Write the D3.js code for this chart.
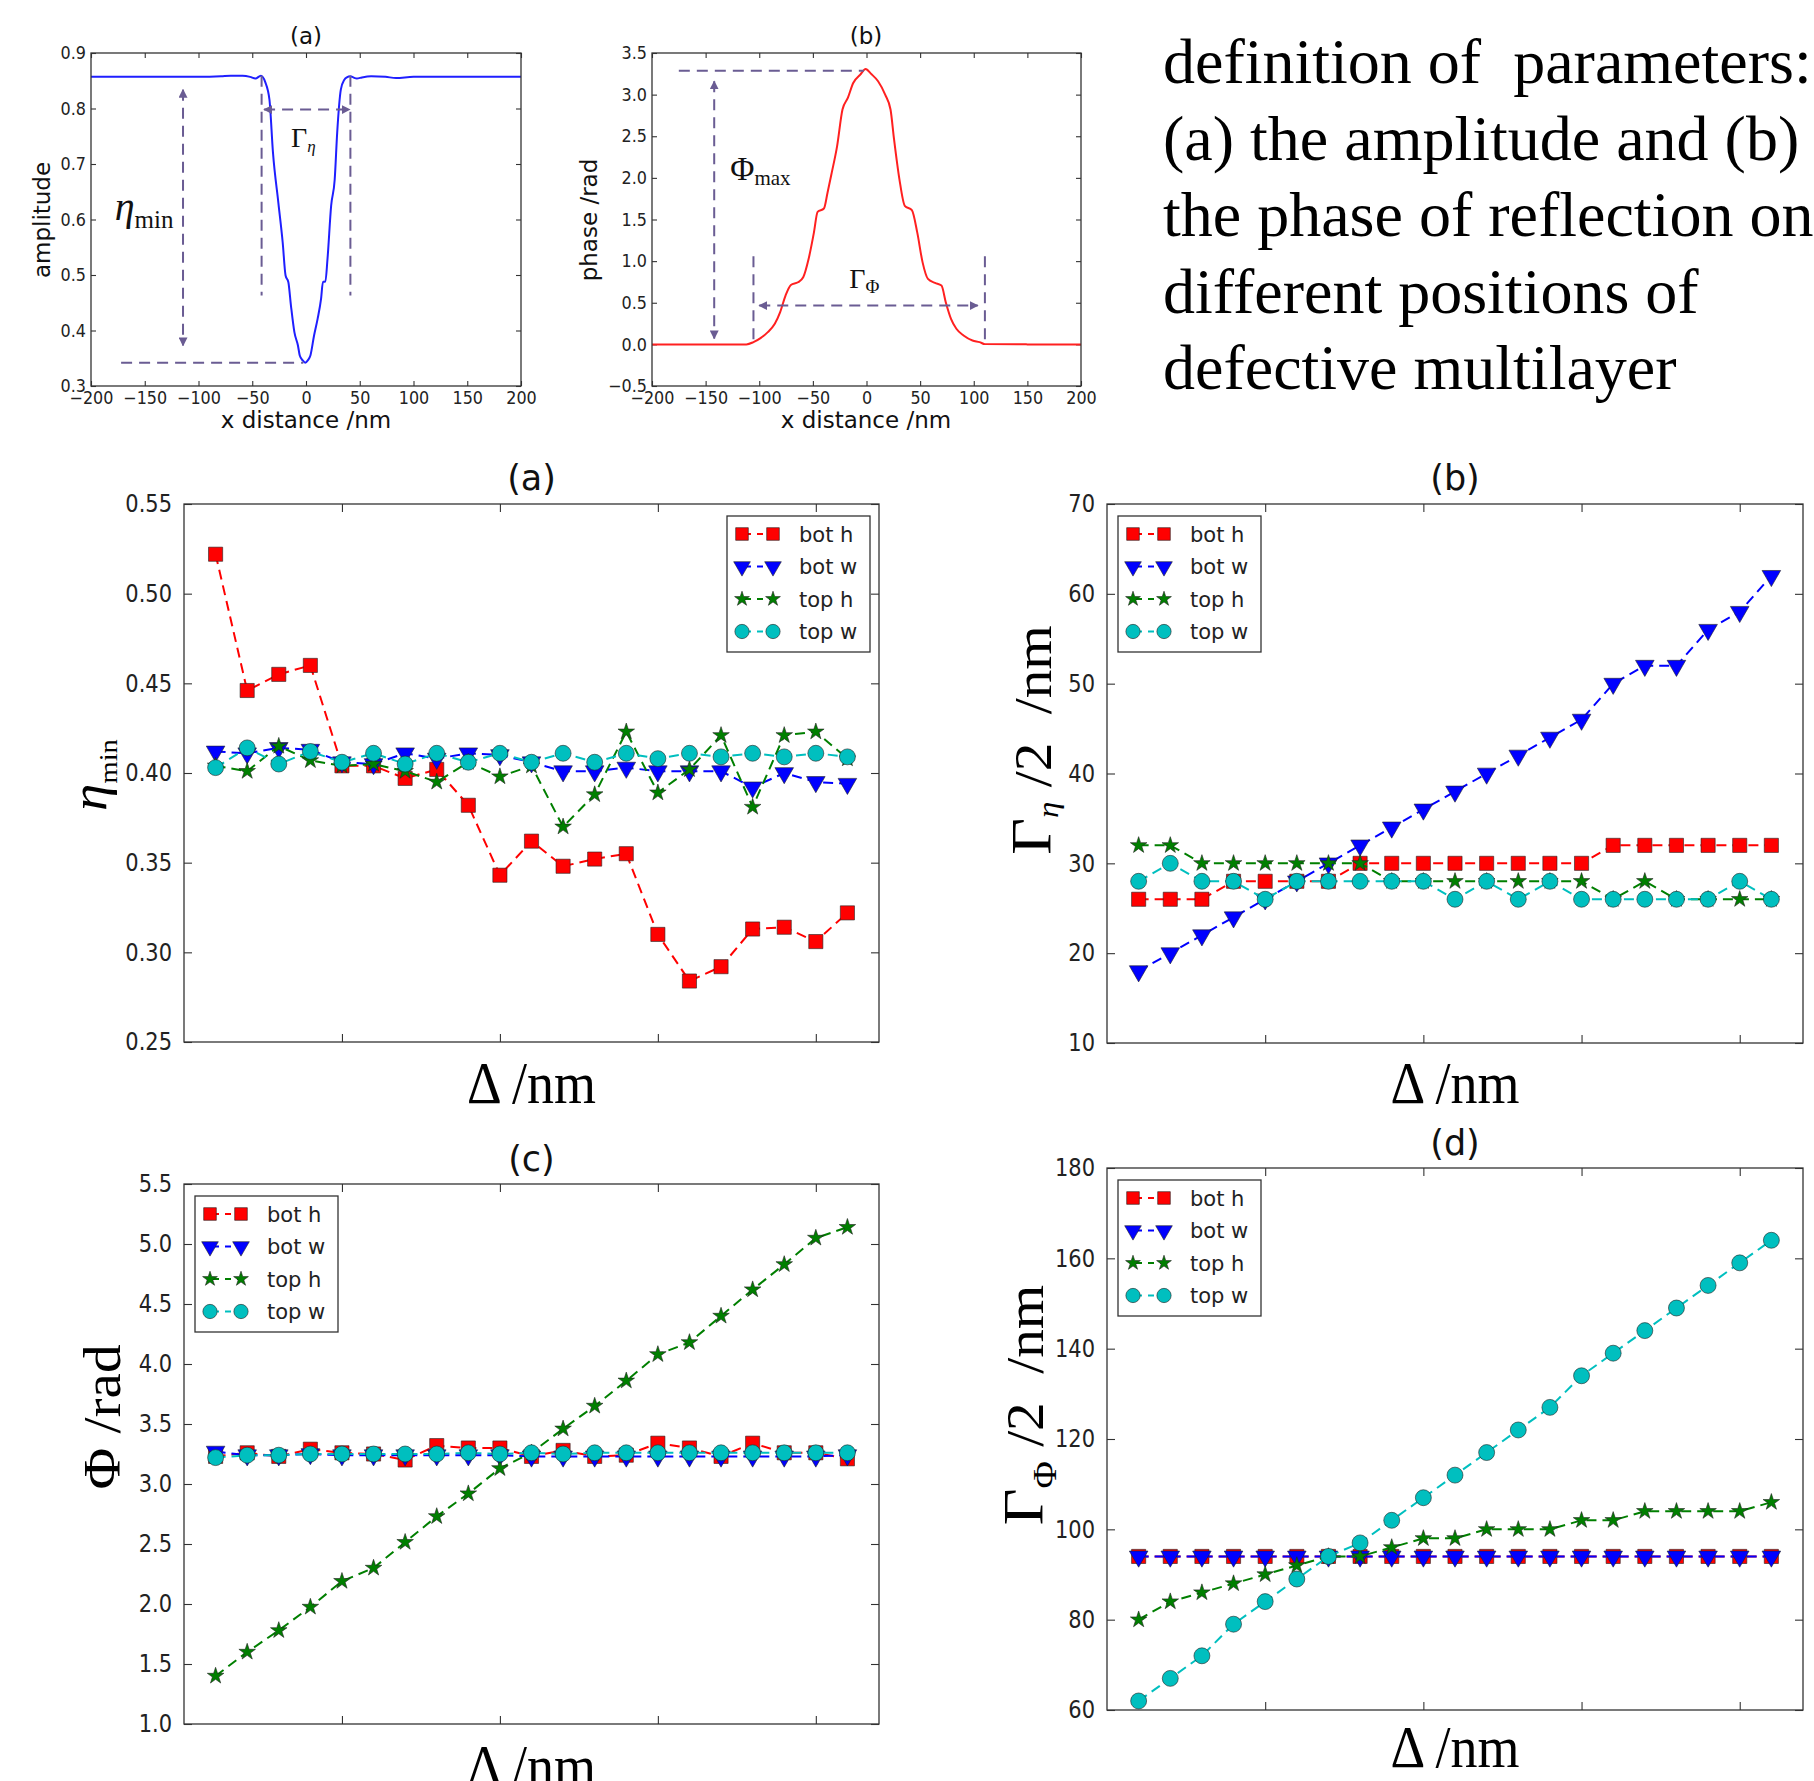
<!DOCTYPE html>
<html>
<head>
<meta charset="utf-8">
<script src="https://cdn.jsdelivr.net/npm/d3@7"></script>
<style>
  body { margin: 0; background: #fff; }
  svg { display: block; }
</style>
</head>
<body>
<script>
// ---------- top row: reflection profiles across the defect ----------
const ampX = [-200, -150, -100, -79, -70, -59, -52, -47, -42, -38, -34, -30.7, -25.7, -21.7, -19, -16.4, -14, -10.8, -7.5, -5.8, -3, -0.8, 2, 4.1, 7.5, 10.8, 14, 15.8, 18, 20, 23.4, 26.7, 29, 32.4, 35.7, 38, 41.3, 44, 47.3, 52, 60.6, 73.9, 83.8, 100, 150, 200];
const ampY = [0.857, 0.857, 0.857, 0.858, 0.859, 0.859, 0.857, 0.854, 0.859, 0.848, 0.816, 0.72, 0.63, 0.559, 0.499, 0.487, 0.445, 0.397, 0.373, 0.355, 0.346, 0.342, 0.347, 0.355, 0.391, 0.421, 0.457, 0.488, 0.488, 0.529, 0.625, 0.672, 0.756, 0.834, 0.852, 0.856, 0.858, 0.856, 0.854, 0.856, 0.858, 0.857, 0.855, 0.857, 0.857, 0.857];

const phX = [-200, -150, -112, -105.4, -98.8, -92, -85.5, -80.5, -75.5, -70.5, -63.9, -59, -54, -49, -45.6, -39.7, -36.3, -32.4, -27.4, -22.4, -17.4, -12.4, -5.8, -0.8, 4.1, 10.8, 17.4, 22.4, 25.7, 30.7, 35.7, 42.3, 47.3, 52.3, 57.3, 63.9, 69.9, 73.9, 78.8, 83.8, 90.5, 98.8, 105.4, 110.4, 150, 200];
const phY = [0, 0, 0, 0.027, 0.075, 0.147, 0.247, 0.387, 0.586, 0.714, 0.746, 0.806, 1.025, 1.345, 1.592, 1.632, 1.824, 2.063, 2.382, 2.821, 2.961, 3.14, 3.24, 3.308, 3.252, 3.16, 3.0, 2.821, 2.462, 1.983, 1.664, 1.612, 1.345, 0.985, 0.786, 0.738, 0.706, 0.507, 0.307, 0.187, 0.107, 0.047, 0.027, 0.003, 0, 0];

const profTicksX = [-200, -150, -100, -50, 0, 50, 100, 150, 200];
const ampTicksY = [0.3, 0.4, 0.5, 0.6, 0.7, 0.8, 0.9];
const phTicksY = [-0.5, 0, 0.5, 1.0, 1.5, 2.0, 2.5, 3.0, 3.5];

// guide lines, in data units
const ampMinLevel = 0.342, ampMinSpan = [-172, -2.5];
const ampMinArrowX = -114.4, ampMinArrowY = [0.834, 0.373];
const ampEdgeX = [-41.3, 41.3], ampEdgeY = [0.859, 0.463];
const ampWidthArrowY = 0.798, ampWidthArrowX = [-39, 40.7];

const phMaxLevel = 3.288, phMaxSpan = [-175, -2.5];
const phMaxArrowX = -142, phMaxArrowY = [3.16, 0.07];
const phEdgeX = [-105.4, 110.4], phEdgeY = [1.06, 0.03];
const phWidthArrowY = 0.466, phWidthArrowX = [-100, 103.7];

// ---------- bottom 2x2: parameters vs defect position ----------
const steps = [0, 1, 2, 3, 4, 5, 6, 7, 8, 9, 10, 11, 12, 13, 14, 15, 16, 17, 18, 19, 20];
const stepTicks = [4, 9, 14, 19];
const seriesNames = ["bot h", "bot w", "top h", "top w"];

const etaBotH = [0.522, 0.446, 0.455, 0.460, 0.404, 0.404, 0.397, 0.402, 0.382, 0.343, 0.362, 0.348, 0.352, 0.355, 0.310, 0.284, 0.292, 0.313, 0.314, 0.306, 0.322];
const etaBotW = [0.412, 0.411, 0.414, 0.413, 0.406, 0.405, 0.411, 0.408, 0.411, 0.410, 0.406, 0.401, 0.401, 0.403, 0.401, 0.401, 0.401, 0.392, 0.400, 0.395, 0.394];
const etaTopH = [0.404, 0.401, 0.415, 0.407, 0.404, 0.405, 0.401, 0.395, 0.406, 0.398, 0.404, 0.370, 0.388, 0.423, 0.389, 0.402, 0.421, 0.381, 0.421, 0.423, 0.408];
const etaTopW = [0.403, 0.414, 0.405, 0.412, 0.406, 0.411, 0.405, 0.411, 0.406, 0.411, 0.406, 0.411, 0.406, 0.411, 0.408, 0.411, 0.409, 0.411, 0.409, 0.411, 0.409];

const gEtaBotH = [26, 26, 26, 28, 28, 28, 28, 30, 30, 30, 30, 30, 30, 30, 30, 32, 32, 32, 32, 32, 32];
const gEtaBotW = [18, 20, 22, 24, 26, 28, 30, 32, 34, 36, 38, 40, 42, 44, 46, 50, 52, 52, 56, 58, 62];
const gEtaTopH = [32, 32, 30, 30, 30, 30, 30, 30, 28, 28, 28, 28, 28, 28, 28, 26, 28, 26, 26, 26, 26];
const gEtaTopW = [28, 30, 28, 28, 26, 28, 28, 28, 28, 28, 26, 28, 26, 28, 26, 26, 26, 26, 26, 28, 26];

const phiBotH = [3.23, 3.26, 3.23, 3.29, 3.26, 3.25, 3.20, 3.32, 3.30, 3.30, 3.23, 3.28, 3.23, 3.24, 3.34, 3.30, 3.23, 3.34, 3.26, 3.26, 3.21];
const phiBotW = [3.27, 3.24, 3.24, 3.25, 3.24, 3.24, 3.24, 3.24, 3.24, 3.24, 3.23, 3.23, 3.23, 3.23, 3.23, 3.23, 3.23, 3.23, 3.23, 3.23, 3.24];
const phiTopH = [1.40, 1.60, 1.78, 1.975, 2.19, 2.30, 2.515, 2.73, 2.92, 3.13, 3.26, 3.46, 3.65, 3.86, 4.08, 4.18, 4.40, 4.62, 4.83, 5.05, 5.14];
const phiTopW = [3.22, 3.24, 3.24, 3.25, 3.25, 3.25, 3.25, 3.25, 3.26, 3.25, 3.26, 3.25, 3.26, 3.26, 3.26, 3.26, 3.26, 3.26, 3.26, 3.26, 3.26];

const gPhiBotH = [94, 94, 94, 94, 94, 94, 94, 94, 94, 94, 94, 94, 94, 94, 94, 94, 94, 94, 94, 94, 94];
const gPhiBotW = [94, 94, 94, 94, 94, 94, 94, 94, 94, 94, 94, 94, 94, 94, 94, 94, 94, 94, 94, 94, 94];
const gPhiTopH = [80, 84, 86, 88, 90, 92, 94, 94, 96, 98, 98, 100, 100, 100, 102, 102, 104, 104, 104, 104, 106];
const gPhiTopW = [62, 67, 72, 79, 84, 89, 94, 97, 102, 107, 112, 117, 122, 127, 134, 139, 144, 149, 154, 159, 164];

const etaTicks = [0.25, 0.30, 0.35, 0.40, 0.45, 0.50, 0.55];
const gEtaTicks = [10, 20, 30, 40, 50, 60, 70];
const phiTicks = [1.0, 1.5, 2.0, 2.5, 3.0, 3.5, 4.0, 4.5, 5.0, 5.5];
const gPhiTicks = [60, 80, 100, 120, 140, 160, 180];

const noteLines = ["definition of  parameters:", "(a) the amplitude and (b)", "the phase of reflection on", "different positions of", "defective multilayer"];

// ---------- drawing ----------
const SANS = "DejaVu Sans";
const SERIF = "Liberation Serif";
const GUIDE = "#6a5c93";

const svg = d3.select("body").append("svg").attr("width", 1814).attr("height", 1781);

const defs = svg.append("defs");
defs.append("marker").attr("id", "arrow")
    .attr("viewBox", "0 0 10 10").attr("refX", 9).attr("refY", 5)
    .attr("markerWidth", 9).attr("markerHeight", 9).attr("markerUnits", "userSpaceOnUse")
    .attr("orient", "auto-start-reverse")
  .append("path").attr("d", "M0,0L10,5L0,10z").attr("fill", GUIDE);

const styles = [
  {color: "#ff0000", type: d3.symbolSquare, size: 200, rot: 0},
  {color: "#0000ff", type: d3.symbolTriangle, size: 150, rot: 180},
  {color: "#007f00", type: d3.symbolStar, size: 85, rot: 0},
  {color: "#00bfbf", type: d3.symbolCircle, size: 200, rot: 0}
];

function panel(box, xDomain, yDomain) {
  const g = svg.append("g").attr("transform", `translate(${box.left},${box.top})`);
  const x = d3.scaleLinear().domain(xDomain).range([0, box.width]);
  const y = d3.scaleLinear().domain(yDomain).range([box.height, 0]);
  return {g, x, y, w: box.width, h: box.height};
}

function axes(p, o) {
  const fix = sel => {
    sel.select(".domain").remove();
    sel.attr("font-family", SANS).attr("font-size", o.font);
    sel.selectAll("line").attr("stroke", "#333").attr("stroke-width", 1.1);
    sel.selectAll("text").attr("fill", "#222").attr("transform", `scale(1,${o.sy})`);
  };
  p.g.append("g").attr("transform", `translate(0,${p.h})`)
    .call(d3.axisBottom(p.x).tickValues(o.xTicks).tickFormat(o.xFmt || (() => "")).tickSize(-o.tick).tickPadding(o.pad))
    .call(fix);
  p.g.append("g")
    .call(d3.axisTop(p.x).tickValues(o.xTicks).tickFormat(() => "").tickSize(-o.tick))
    .call(fix);
  p.g.append("g")
    .call(d3.axisLeft(p.y).tickValues(o.yTicks).tickFormat(o.yFmt).tickSize(-o.tick).tickPadding(o.pad))
    .call(fix);
  p.g.append("g").attr("transform", `translate(${p.w},0)`)
    .call(d3.axisRight(p.y).tickValues(o.yTicks).tickFormat(() => "").tickSize(-o.tick))
    .call(fix);
}

function border(p) {
  p.g.append("rect").attr("width", p.w).attr("height", p.h)
    .attr("fill", "none").attr("stroke", "#333").attr("stroke-width", 1.3);
}

function text(parent, x, y, str, o) {
  const t = parent.append("text")
    .attr("transform", `translate(${x},${y})` + (o.rotate ? " rotate(-90)" : "") + (o.sy ? (o.rotate ? ` scale(${o.sy},1)` : ` scale(1,${o.sy})`) : ""))
    .attr("font-family", o.family || SANS).attr("font-size", o.size)
    .attr("text-anchor", o.anchor || "middle").attr("fill", o.fill || "#111")
    .style("white-space", "pre");
  if (typeof str === "string") t.text(str);
  else str.forEach(s => t.append("tspan").attr("font-size", s.size || o.size)
      .attr("font-style", s.italic ? "italic" : null).attr("dy", s.dy || 0).text(s.t));
  return t;
}

// --- dashed guide helpers (all positions in data units through the scales)
function guide(p, x1, y1, x2, y2, arrows) {
  const l = p.g.append("line")
    .attr("x1", p.x(x1)).attr("y1", p.y(y1)).attr("x2", p.x(x2)).attr("y2", p.y(y2))
    .attr("stroke", GUIDE).attr("stroke-width", 2).attr("stroke-dasharray", "11,7");
  if (arrows) l.attr("marker-start", "url(#arrow)").attr("marker-end", "url(#arrow)");
}

// ---------- top (a): amplitude ----------
{
  const p = panel({left: 91, top: 53, width: 430, height: 333}, [-200, 200], [0.3, 0.9]);
  axes(p, {xTicks: profTicksX, yTicks: ampTicksY, xFmt: d3.format("d"), yFmt: d3.format(".1f"), tick: 5, pad: 5, font: 16, sy: 1.12});
  const line = d3.line().x((d, i) => p.x(ampX[i])).y(d => p.y(d)).curve(d3.curveMonotoneX);
  p.g.append("path").datum(ampY).attr("d", line).attr("fill", "none").attr("stroke", "#1f1fff").attr("stroke-width", 2);

  guide(p, ampMinSpan[0], ampMinLevel, ampMinSpan[1], ampMinLevel, false);
  guide(p, ampMinArrowX, ampMinArrowY[0], ampMinArrowX, ampMinArrowY[1], true);
  ampEdgeX.forEach(ex => guide(p, ex, ampEdgeY[0], ex, ampEdgeY[1], false));
  guide(p, ampWidthArrowX[0], ampWidthArrowY, ampWidthArrowX[1], ampWidthArrowY, true);

  text(p.g, p.x(-178), p.y(0.6), [{t: "η", italic: true, size: 40}, {t: "min", size: 25, dy: 8}], {family: SERIF, size: 40, anchor: "start"});
  text(p.g, p.x(-14), p.y(0.731), [{t: "Γ", size: 28}, {t: "η", italic: true, size: 17, dy: 5}], {family: SERIF, size: 28, anchor: "start"});
  border(p);

  text(svg, 306, 44, "(a)", {size: 23});
  text(svg, 306, 428, "x distance /nm", {size: 23});
  text(svg, 50, 220, "amplitude", {size: 23, rotate: true});
}

// ---------- top (b): phase ----------
{
  const p = panel({left: 652, top: 53, width: 429, height: 333}, [-200, 200], [-0.5, 3.5]);
  axes(p, {xTicks: profTicksX, yTicks: phTicksY, xFmt: d3.format("d"), yFmt: d3.format(".1f"), tick: 5, pad: 5, font: 16, sy: 1.12});
  const line = d3.line().x((d, i) => p.x(phX[i])).y(d => p.y(d)).curve(d3.curveMonotoneX);
  p.g.append("path").datum(phY).attr("d", line).attr("fill", "none").attr("stroke", "#ff2020").attr("stroke-width", 2);

  guide(p, phMaxSpan[0], phMaxLevel, phMaxSpan[1], phMaxLevel, false);
  guide(p, phMaxArrowX, phMaxArrowY[0], phMaxArrowX, phMaxArrowY[1], true);
  phEdgeX.forEach(ex => guide(p, ex, phEdgeY[0], ex, phEdgeY[1], false));
  guide(p, phWidthArrowX[0], phWidthArrowY, phWidthArrowX[1], phWidthArrowY, true);

  text(p.g, p.x(-127), p.y(1.975), [{t: "Φ", size: 33}, {t: "max", size: 21, dy: 5}], {family: SERIF, size: 33, anchor: "start"});
  text(p.g, p.x(-16), p.y(0.677), [{t: "Γ", size: 28}, {t: "Φ", size: 19, dy: 5}], {family: SERIF, size: 28, anchor: "start"});
  border(p);

  text(svg, 866, 44, "(b)", {size: 23});
  text(svg, 866, 428, "x distance /nm", {size: 23});
  text(svg, 597, 220, "phase /rad", {size: 23, rotate: true});
}

// ---------- note text ----------
noteLines.forEach((s, i) => {
  svg.append("text").attr("x", 1163).attr("y", 83 + i * 76.5)
    .attr("font-family", SERIF).attr("font-size", 64).attr("fill", "#000")
    .style("white-space", "pre").text(s);
});

// ---------- bottom panels ----------
function legend(p, lx, ly) {
  const g = p.g.append("g").attr("transform", `translate(${lx},${ly})`);
  g.append("rect").attr("width", 143).attr("height", 136)
    .attr("fill", "#fff").attr("stroke", "#333").attr("stroke-width", 1.3);
  seriesNames.forEach((name, i) => {
    const st = styles[i];
    const ry = 18 + i * 32.5;
    g.append("line").attr("x1", 15).attr("x2", 46).attr("y1", ry).attr("y2", ry)
      .attr("stroke", st.color).attr("stroke-width", 2).attr("stroke-dasharray", "6,6").attr("stroke-dashoffset", -3);
    [15, 46].forEach(mx => g.append("path")
      .attr("d", d3.symbol(st.type, st.size * 0.8)())
      .attr("transform", `translate(${mx},${ry}) rotate(${st.rot})`)
      .attr("fill", st.color).attr("stroke", "#222").attr("stroke-width", 0.6));
    g.append("text").attr("x", 72).attr("y", ry).attr("dy", "0.36em")
      .attr("font-family", SANS).attr("font-size", 21).attr("fill", "#222").text(name);
  });
}

function seriesPanel(cfg) {
  const p = panel(cfg.box, [-1, 21], cfg.yDomain);
  axes(p, {xTicks: stepTicks, yTicks: cfg.ticks, yFmt: cfg.fmt, tick: 8, pad: 12, font: 21, sy: 1.15});
  const line = d3.line().x((d, i) => p.x(steps[i])).y(d => p.y(d));
  cfg.series.forEach((vals, k) => {
    const st = styles[k];
    p.g.append("path").datum(vals).attr("d", line).attr("fill", "none")
      .attr("stroke", st.color).attr("stroke-width", 2).attr("stroke-dasharray", "10,6");
    p.g.selectAll(null).data(vals).join("path")
      .attr("d", d3.symbol(st.type, st.size)())
      .attr("transform", (d, i) => `translate(${p.x(steps[i])},${p.y(d)}) rotate(${st.rot})`)
      .attr("fill", st.color).attr("stroke", "#222").attr("stroke-width", 0.6);
  });
  border(p);
  legend(p, cfg.legendRight ? p.w - 9 - 143 : 11, 12);

  const cx = cfg.box.left + cfg.box.width / 2;
  text(svg, cx, cfg.titleY, cfg.title, {size: 35});
  text(svg, cx, cfg.xLabelY, "Δ /nm", {family: SERIF, size: 54, sy: 1.1, fill: "#000"});
  text(svg, cfg.yLabel.x, cfg.yLabel.y, cfg.yLabel.parts, {family: SERIF, size: cfg.yLabel.size, rotate: true, sy: 1.1, fill: "#000"});
}

seriesPanel({
  box: {left: 184, top: 504, width: 695, height: 538}, yDomain: [0.25, 0.55],
  ticks: etaTicks, fmt: d3.format(".2f"), series: [etaBotH, etaBotW, etaTopH, etaTopW],
  legendRight: true, title: "(a)", titleY: 490, xLabelY: 1103,
  yLabel: {x: 106, y: 775, size: 48, parts: [{t: "η", italic: true, size: 50}, {t: "min", size: 26, dy: 11}]}
});
seriesPanel({
  box: {left: 1107, top: 504, width: 696, height: 539}, yDomain: [10, 70],
  ticks: gEtaTicks, fmt: d3.format("d"), series: [gEtaBotH, gEtaBotW, gEtaTopH, gEtaTopW],
  legendRight: false, title: "(b)", titleY: 490, xLabelY: 1103,
  yLabel: {x: 1051, y: 740, size: 52, parts: [{t: "Γ", size: 58}, {t: "η", italic: true, size: 30, dy: 7}, {t: " /2  /nm", size: 52, dy: -7}]}
});
seriesPanel({
  box: {left: 184, top: 1184, width: 695, height: 540}, yDomain: [1.0, 5.5],
  ticks: phiTicks, fmt: d3.format(".1f"), series: [phiBotH, phiBotW, phiTopH, phiTopW],
  legendRight: false, title: "(c)", titleY: 1171, xLabelY: 1786,
  yLabel: {x: 120, y: 1417, size: 52, parts: [{t: "Φ /rad", size: 52}]}
});
seriesPanel({
  box: {left: 1107, top: 1168, width: 696, height: 542}, yDomain: [60, 180],
  ticks: gPhiTicks, fmt: d3.format("d"), series: [gPhiBotH, gPhiBotW, gPhiTopH, gPhiTopW],
  legendRight: false, title: "(d)", titleY: 1155, xLabelY: 1767,
  yLabel: {x: 1043, y: 1405, size: 52, parts: [{t: "Γ", size: 58}, {t: "Φ", size: 34, dy: 13}, {t: " /2  /nm", size: 52, dy: -13}]}
});
</script>
</body>
</html>
